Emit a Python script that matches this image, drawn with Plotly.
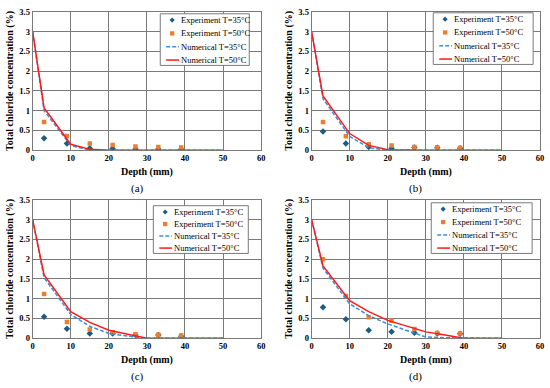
import plotly.graph_objects as go

# ---------------- data ----------------
exp_depth = [3, 9, 15, 21, 27, 33, 39]
num_depth = [0, 3, 10, 15, 20, 25, 30, 35, 40, 45, 50]

panel_labels = ["(a)", "(b)", "(c)", "(d)"]
series_names = ["Experiment T=35°C", "Experiment T=50°C", "Numerical T=35°C", "Numerical T=50°C"]

exp35_a = [0.30, 0.17, 0.05, 0.04, 0.03, 0.03, 0.02]
exp50_a = [0.71, 0.36, 0.17, 0.13, 0.09, 0.08, 0.07]
num35_a = [3.0, 1.00, 0.12, 0.0, 0.0, 0.0, 0.0, 0.0, 0.0, 0.0, 0.0]
num50_a = [3.0, 1.07, 0.15, 0.02, 0.0, 0.0, 0.0, 0.0, 0.0, 0.0, 0.0]

exp35_b = [0.47, 0.17, 0.08, 0.05, 0.07, 0.06, 0.05]
exp50_b = [0.71, 0.35, 0.15, 0.12, 0.08, 0.07, 0.06]
num35_b = [3.0, 1.30, 0.35, 0.06, 0.0, 0.0, 0.0, 0.0, 0.0, 0.0, 0.0]
num50_b = [3.0, 1.37, 0.42, 0.12, 0.01, 0.0, 0.0, 0.0, 0.0, 0.0, 0.0]

exp35_c = [0.54, 0.24, 0.12, 0.12, 0.08, 0.08, 0.05]
exp50_c = [1.12, 0.41, 0.22, 0.15, 0.10, 0.09, 0.07]
num35_c = [3.0, 1.53, 0.60, 0.30, 0.12, 0.05, 0.0, 0.0, 0.0, 0.0, 0.0]
num50_c = [3.0, 1.60, 0.67, 0.40, 0.20, 0.10, 0.0, 0.0, 0.0, 0.0, 0.0]

exp35_d = [0.78, 0.48, 0.20, 0.16, 0.14, 0.12, 0.11]
exp50_d = [2.00, 1.07, 0.53, 0.44, 0.23, 0.13, 0.12]
num35_d = [3.0, 1.77, 0.87, 0.57, 0.36, 0.20, 0.03, 0.01, 0.0, 0.0, 0.0]
num50_d = [3.0, 1.83, 0.95, 0.67, 0.45, 0.30, 0.16, 0.08, 0.0, 0.0, 0.0]

x_ticks = [0, 10, 20, 30, 40, 50, 60]
y_ticks = [0, 0.5, 1, 1.5, 2, 2.5, 3, 3.5]
y_tick_text = ["0", "0.5", "1", "1.5", "2", "2.5", "3", "3.5"]

panels = [
    (exp35_a, exp50_a, num35_a, num50_a),
    (exp35_b, exp50_b, num35_b, num50_b),
    (exp35_c, exp50_c, num35_c, num50_c),
    (exp35_d, exp50_d, num35_d, num50_d),
]

# ---------------- layout geometry (pixels) ----------------
W, H = 550, 388
boxes = [  # plot areas: (x0, x1, ytop, ybottom)
    (31, 262, 7, 149),
    (313, 544, 7, 149),
    (31, 262, 200, 342),
    (313, 544, 200, 342),
]
legend_boxes = [  # (left, top, width, height)
    (160, 9, 90, 53),
    (436, 8, 101, 53),
    (153, 206, 96, 49),
    (434, 203, 102, 52),
]

SERIF = "Liberation Serif, Times New Roman, serif"
GRID = "#7a7a7a"
C_E35, C_E50, C_N35, C_N50 = "#1f5a85", "#ed7d31", "#3d8fd6", "#ff1a1a"


def px(x):
    return x / W


def py(y):
    return (H - y) / H


fig = go.Figure()
annotations, shapes = [], []
layout = dict(
    width=W, height=H,
    margin=dict(l=0, r=0, t=0, b=0),
    paper_bgcolor="white", plot_bgcolor="white",
    font=dict(family=SERIF, color="black"),
    showlegend=False,
)

for i, (e35, e50, n35, n50) in enumerate(panels):
    k = "" if i == 0 else str(i + 1)
    xa, ya = "x" + k, "y" + k
    fig.add_trace(go.Scatter(x=exp_depth, y=e35, mode="markers", name=series_names[0],
                             marker=dict(symbol="diamond", size=5, color=C_E35),
                             xaxis=xa, yaxis=ya))
    fig.add_trace(go.Scatter(x=exp_depth, y=e50, mode="markers", name=series_names[1],
                             marker=dict(symbol="square", size=4.5, color=C_E50),
                             xaxis=xa, yaxis=ya))
    fig.add_trace(go.Scatter(x=num_depth, y=n35, mode="lines", name=series_names[2],
                             line=dict(color=C_N35, width=1.5, dash="4px,2px"),
                             xaxis=xa, yaxis=ya))
    fig.add_trace(go.Scatter(x=num_depth, y=n50, mode="lines", name=series_names[3],
                             line=dict(color=C_N50, width=1.5),
                             xaxis=xa, yaxis=ya))

    x0, x1, yt, yb = boxes[i]
    axis_common = dict(showgrid=True, gridcolor=GRID, gridwidth=1, showline=True,
                       linecolor=GRID, linewidth=1, mirror=True, zeroline=False,
                       ticks="", tickfont=dict(family=SERIF, size=8.5, color="black", weight="bold"))
    layout["xaxis" + k] = dict(domain=[px(x0), px(x1)], range=[0, 60], tickvals=x_ticks,
                               anchor=ya, **axis_common)
    layout["yaxis" + k] = dict(domain=[py(yb), py(yt)], range=[0, 3.5], tickvals=y_ticks,
                               ticktext=y_tick_text, anchor=xa, **axis_common)

    # axis titles & panel labels
    cx = (x0 + x1) / 2
    annotations += [
        dict(text="<b>Depth (mm)</b>", x=px(cx), y=py(yb + 22), xref="paper", yref="paper",
             showarrow=False, font=dict(family=SERIF, size=10), xanchor="center", yanchor="middle"),
        dict(text="<b>Total chloride concentration (%)</b>", x=px(x0 - 23), y=py((yt + yb) / 2),
             xref="paper", yref="paper", textangle=-90, showarrow=False,
             font=dict(family=SERIF, size=10), xanchor="center", yanchor="middle"),
        dict(text=panel_labels[i], x=px(cx - 10), y=py(yb + 39), xref="paper", yref="paper",
             showarrow=False, font=dict(family=SERIF, size=11), xanchor="center", yanchor="middle"),
    ]

    # custom compact legend (box, symbols, texts)
    L, T, LW, LH = legend_boxes[i]
    shapes.append(dict(type="rect", xref="paper", yref="paper", x0=px(L), x1=px(L + LW),
                       y0=py(T + LH), y1=py(T), line=dict(color=GRID, width=1),
                       fillcolor="white", layer="above"))
    step = (LH - 12) / 3.0
    rows = [T + 6.5 + step * j for j in range(4)]
    sx = L + 12
    r = 2.6
    shapes.append(dict(type="path", xref="paper", yref="paper", layer="above",
                       path=f"M {px(sx)} {py(rows[0]-r)} L {px(sx+r)} {py(rows[0])} "
                            f"L {px(sx)} {py(rows[0]+r)} L {px(sx-r)} {py(rows[0])} Z",
                       fillcolor=C_E35, line=dict(width=0)))
    s = 2.2
    shapes.append(dict(type="rect", xref="paper", yref="paper", layer="above",
                       x0=px(sx - s), x1=px(sx + s), y0=py(rows[1] + s), y1=py(rows[1] - s),
                       fillcolor=C_E50, line=dict(width=0)))
    shapes.append(dict(type="line", xref="paper", yref="paper", layer="above",
                       x0=px(L + 6), x1=px(L + 19), y0=py(rows[2]), y1=py(rows[2]),
                       line=dict(color=C_N35, width=1.5, dash="4px,2px")))
    shapes.append(dict(type="line", xref="paper", yref="paper", layer="above",
                       x0=px(L + 6), x1=px(L + 19), y0=py(rows[3]), y1=py(rows[3]),
                       line=dict(color=C_N50, width=1.5)))
    for j, name in enumerate(series_names):
        annotations.append(dict(text=name, x=px(L + 19), y=py(rows[j]), xref="paper", yref="paper",
                                showarrow=False, xanchor="left", yanchor="middle",
                                font=dict(family=SERIF, size=8.5, color="black")))

layout["annotations"] = annotations
layout["shapes"] = shapes
fig.update_layout(**layout)
fig.write_html("out.html", config={"displayModeBar": False},
               post_script="document.body.style.margin='0px';")
